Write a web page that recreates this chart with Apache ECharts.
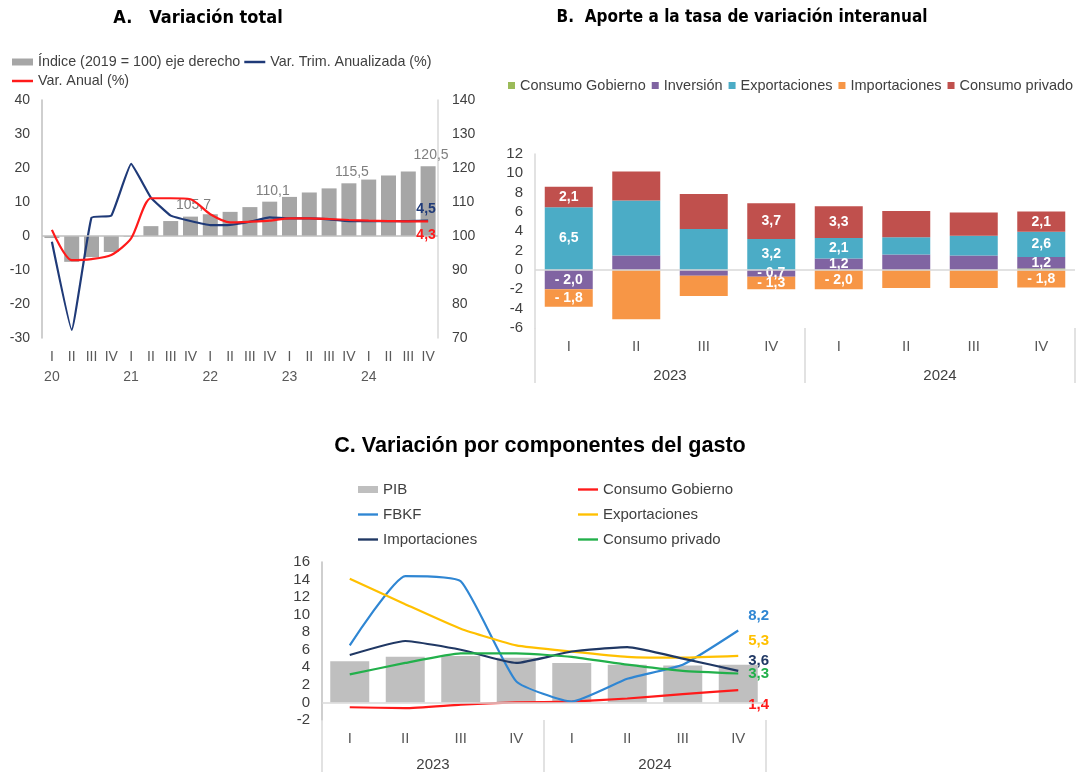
<!DOCTYPE html>
<html lang="es">
<head>
<meta charset="utf-8">
<title>PIB | Variación total, aportes y componentes del gasto</title>
<script src="https://cdn.jsdelivr.net/npm/echarts@6/dist/echarts.min.js"></script>
<style>
  html, body { margin: 0; padding: 0; background: #fff; }
  .panel { position: absolute; left: 0; top: 0; width: 1081px; height: 772px; }
</style>
</head>
<body>
<div id="chartA" class="panel"></div>
<div id="chartB" class="panel"></div>
<div id="chartC" class="panel"></div>

<script>
// ---- A. Variación total (2020 I - 2024 IV)
const quartersA = ['I','II','III','IV','I','II','III','IV','I','II','III','IV','I','II','III','IV','I','II','III','IV'];
const yearsA = ['20','21','22','23','24'];
const indiceA = [99.4, 92.4, 93.8, 95.3, 99.8, 102.9, 104.4, 105.7, 106.4, 107.1,
                 108.5, 110.1, 111.5, 112.8, 114.0, 115.5, 116.6, 117.8, 119.0, 120.5];
const trimA = [-1.7, -27.6, 5.4, 6.0, 21.2, 11.3, 6.0, 4.4, 3.2, 3.3,
               4.2, 5.5, 5.2, 5.2, 4.9, 4.4, 4.4, 4.4, 4.4, 4.5];
const anualA = [1.8, -7.1, -6.8, -5.6, -0.7, 11.1, 11.1, 10.8, 6.4, 4.0,
                4.2, 4.5, 5.2, 5.2, 5.0, 4.7, 4.5, 4.4, 4.3, 4.3];
const indiceLabelIdx = [7, 11, 15, 19];

// ---- B. Aporte a la tasa de variación interanual (2023-2024)
const quartersB = ['I','II','III','IV','I','II','III','IV'];
const yearsB = ['2023','2024'];
const gobiernoB = [0, 0, 0, 0, 0, 0, 0, 0.15];
const inversionB = [-2.0, 1.5, -0.6, -0.7, 1.2, 1.6, 1.5, 1.2];
const exportB = [6.5, 5.7, 4.25, 3.2, 2.1, 1.8, 2.05, 2.6];
const importB = [-1.8, -5.1, -2.1, -1.3, -2.0, -1.85, -1.85, -1.8];
const privadoB = [2.1, 3.0, 3.6, 3.7, 3.3, 2.7, 2.4, 2.1];
const labeledB = [0, 3, 4, 7];

// ---- C. Variación por componentes del gasto
const quartersC = ['I','II','III','IV','I','II','III','IV'];
const yearsC = ['2023','2024'];
const pibC = [4.7, 5.2, 5.3, 5.1, 4.5, 4.3, 4.2, 4.3];
const gobiernoC = [-0.55, -0.65, -0.25, 0.0, 0.1, 0.45, 0.95, 1.4];
const fbkfC = [6.5, 14.4, 13.8, 2.4, 0.1, 2.7, 4.3, 8.2];
const exportC = [14.1, 11.2, 8.4, 6.5, 5.8, 5.2, 5.1, 5.3];
const importC = [5.4, 7.0, 6.0, 4.5, 5.8, 6.3, 5.0, 3.6];
const privadoC = [3.2, 4.5, 5.6, 5.6, 5.2, 4.3, 3.6, 3.3];

const FONT = "'Liberation Sans', Arial, sans-serif";
const NARROW = "'Liberation Sans Narrow', 'Arial Narrow', 'DejaVu Sans Condensed', sans-serif";
const TXT = '#404040';
const LINE_ICON = 'path://M0,0L22,0L22,2.6L0,2.6Z';
const fmt = v => v.toFixed(1).replace('.', ',');
const fmtSigned = v => (v < 0 ? '- ' + fmt(-v) : fmt(v));

function title(text, x, y, size, family) {
  return {
    type: 'text', x: x, y: y, silent: true,
    style: { text: text, fontSize: size, fontWeight: 'bold', fontFamily: family,
             fill: '#000', align: 'center', verticalAlign: 'middle' }
  };
}

// move an end label up (d<0) or down (d>0) from its point by d px
function shiftLabel(d) {
  if (Math.abs(d) < 3) return { verticalAlign: 'middle' };
  return { verticalAlign: d < 0 ? 'bottom' : 'top', lineHeight: 2 * Math.abs(d) };
}

// ================= Chart A =================
const chartA = echarts.init(document.getElementById('chartA'));
chartA.setOption({
  animation: false,
  textStyle: { fontFamily: FONT },
  graphic: [title('A.   Variación total', 198, 18, 18, NARROW)],
  legend: [
    { left: 12, top: 55, padding: 0, itemWidth: 21, itemHeight: 7, itemGap: 4,
      textStyle: { fontSize: 14.3, color: TXT },
      data: [{ name: 'Índice (2019 = 100) eje derecho', icon: 'rect' },
             { name: 'Var. Trim. Anualizada (%)', icon: LINE_ICON }] },
    { left: 12, top: 74, padding: 0, itemWidth: 21, itemHeight: 7,
      textStyle: { fontSize: 14.3, color: TXT },
      data: [{ name: 'Var. Anual (%)', icon: LINE_ICON }] }
  ],
  grid: { left: 42, top: 100, width: 396, height: 238 },
  xAxis: {
    type: 'category', data: quartersA,
    axisLine: { show: false }, axisTick: { show: false },
    axisLabel: {
      interval: 0, margin: 9, fontSize: 14, color: '#595959', lineHeight: 20,
      formatter: (v, i) => (i % 4 === 0 ? v + '\n' + yearsA[i / 4] : v)
    }
  },
  yAxis: [
    { type: 'value', min: -30, max: 40, interval: 10,
      axisLine: { show: true, lineStyle: { color: '#BFBFBF', width: 1.5 } },
      splitLine: { show: false },
      axisLabel: { fontSize: 14, color: TXT, margin: 12 } },
    { type: 'value', min: 70, max: 140, interval: 10, position: 'right',
      axisLine: { show: true, lineStyle: { color: '#D9D9D9', width: 1.5 } },
      splitLine: { show: false },
      axisLabel: { fontSize: 14, color: TXT, margin: 14 } }
  ],
  series: [
    {
      // index drawn as distance from 100 on the left scale (0 <-> 100, same 10-unit steps as the right axis)
      name: 'Índice (2019 = 100) eje derecho', type: 'bar', yAxisIndex: 0,
      barWidth: 15, itemStyle: { color: '#A6A6A6' },
      data: indiceA.map((v, i) => ({ value: +(v - 100).toFixed(2),
                                     label: { show: indiceLabelIdx.includes(i) } })),
      label: { position: 'top', distance: 4, offset: [3, 0], color: '#7F7F7F', fontSize: 14,
               formatter: p => fmt(indiceA[p.dataIndex]) },
      markLine: { silent: true, symbol: 'none', label: { show: false },
                  lineStyle: { color: '#BFBFBF', width: 1.5, type: 'solid' },
                  data: [{ yAxis: 0 }] }
    },
    {
      name: 'Var. Trim. Anualizada (%)', type: 'line', data: trimA,
      symbol: 'none', smooth: 0.1, z: 4,
      lineStyle: { color: '#1F3A78', width: 2.2 }, itemStyle: { color: '#1F3A78' },
      endLabel: Object.assign({ show: true, formatter: p => fmt(p.value), color: '#1F3A78',
                  fontWeight: 'bold', fontSize: 14, align: 'center', distance: -2 }, shiftLabel(-12))
    },
    {
      name: 'Var. Anual (%)', type: 'line', data: anualA,
      symbol: 'none', smooth: 0.25, z: 5,
      lineStyle: { color: '#FF1A1A', width: 2.2 }, itemStyle: { color: '#FF1A1A' },
      endLabel: Object.assign({ show: true, formatter: p => fmt(p.value), color: '#FF1A1A',
                  fontWeight: 'bold', fontSize: 14, align: 'center', distance: -2 }, shiftLabel(14))
    }
  ]
});

// ================= Chart B =================
const chartB = echarts.init(document.getElementById('chartB'));
const stackLabel = {
  position: 'inside', color: '#fff', fontWeight: 'bold', fontSize: 14,
  formatter: p => fmtSigned(p.value)
};
function stackData(arr, labelled) {
  return arr.map((v, i) => ({ value: v, label: { show: labelled && labeledB.includes(i) } }));
}
chartB.setOption({
  animation: false,
  textStyle: { fontFamily: FONT },
  graphic: [title('B.  Aporte a la tasa de variación interanual', 742, 18, 17, NARROW)],
  legend: { left: 508, top: 78, padding: 0, icon: 'rect', itemWidth: 7, itemHeight: 7, itemGap: 6,
            textStyle: { fontSize: 14.5, color: TXT } },
  grid: { left: 535, top: 154, width: 540, height: 174 },
  xAxis: [
    { type: 'category', data: quartersB, position: 'bottom',
      axisLine: { show: false }, axisTick: { show: false },
      axisLabel: { interval: 0, margin: 11, fontSize: 15, color: '#595959' } },
    { type: 'category', data: yearsB, position: 'bottom',
      axisLine: { show: false },
      axisTick: { show: true, length: 55, lineStyle: { color: '#D9D9D9', width: 1.5 } },
      axisLabel: { margin: 40, fontSize: 15, color: TXT } }
  ],
  yAxis: { type: 'value', min: -6, max: 12, interval: 2,
           axisLine: { show: true, lineStyle: { color: '#D9D9D9', width: 1.5 } },
           splitLine: { show: false },
           axisLabel: { fontSize: 15, color: TXT, margin: 12 } },
  series: [
    { name: 'Consumo Gobierno', type: 'bar', stack: 'b', barWidth: 48,
      itemStyle: { color: '#9BBB59' }, data: stackData(gobiernoB, false),
      markLine: { silent: true, symbol: 'none', label: { show: false },
                  lineStyle: { color: '#D9D9D9', width: 1.5, type: 'solid' },
                  data: [{ yAxis: 0 }] } },
    { name: 'Inversión', type: 'bar', stack: 'b', itemStyle: { color: '#8064A2' },
      label: stackLabel, data: stackData(inversionB, true) },
    { name: 'Exportaciones', type: 'bar', stack: 'b', itemStyle: { color: '#4BACC6' },
      label: stackLabel, data: stackData(exportB, true) },
    { name: 'Importaciones', type: 'bar', stack: 'b', itemStyle: { color: '#F79646' },
      label: stackLabel, data: stackData(importB, true) },
    { name: 'Consumo privado', type: 'bar', stack: 'b', itemStyle: { color: '#C0504D' },
      label: stackLabel, data: stackData(privadoB, true) }
  ]
});

// ================= Chart C =================
const chartC = echarts.init(document.getElementById('chartC'));
function lineC(name, data, color, shift) {
  return {
    name: name, type: 'line', data: data, symbol: 'none', smooth: 0.15, z: 4,
    lineStyle: { color: color, width: 2.2 }, itemStyle: { color: color },
    endLabel: Object.assign({ show: true, formatter: p => fmt(p.value), color: color,
                fontWeight: 'bold', fontSize: 15, align: 'left', distance: 10 }, shiftLabel(shift))
  };
}
const legendC = { top: 482, padding: 0, orient: 'vertical', itemWidth: 20, itemHeight: 7, itemGap: 10,
                  textStyle: { fontSize: 15, color: TXT } };
chartC.setOption({
  animation: false,
  textStyle: { fontFamily: FONT },
  graphic: [title('C. Variación por componentes del gasto', 540, 446, 21.6, FONT)],
  legend: [
    Object.assign({ left: 358, data: [{ name: 'PIB', icon: 'rect' },
                                      { name: 'FBKF', icon: LINE_ICON },
                                      { name: 'Importaciones', icon: LINE_ICON }] }, legendC),
    Object.assign({ left: 578, data: [{ name: 'Consumo Gobierno', icon: LINE_ICON },
                                      { name: 'Exportaciones', icon: LINE_ICON },
                                      { name: 'Consumo privado', icon: LINE_ICON }] }, legendC)
  ],
  grid: { left: 322, top: 562, width: 444, height: 159 },
  xAxis: [
    { type: 'category', data: quartersC, position: 'bottom',
      axisLine: { show: false }, axisTick: { show: false },
      axisLabel: { interval: 0, margin: 11, fontSize: 15, color: '#595959' } },
    { type: 'category', data: yearsC, position: 'bottom',
      axisLine: { show: false },
      axisTick: { show: true, length: 52, lineStyle: { color: '#D9D9D9', width: 1.5 } },
      axisLabel: { margin: 37, fontSize: 15, color: TXT } }
  ],
  yAxis: { type: 'value', min: -2, max: 16, interval: 2,
           axisLine: { show: true, lineStyle: { color: '#BFBFBF', width: 1.5 } },
           splitLine: { show: false },
           axisLabel: { fontSize: 15, color: TXT, margin: 12 } },
  series: [
    { name: 'PIB', type: 'bar', barWidth: 39, itemStyle: { color: '#BFBFBF' }, data: pibC,
      markLine: { silent: true, symbol: 'none', label: { show: false },
                  lineStyle: { color: '#D9D9D9', width: 1.5, type: 'solid' },
                  data: [{ yAxis: 0 }] } },
    lineC('Consumo Gobierno', gobiernoC, '#FF1A1A', 15),
    lineC('FBKF', fbkfC, '#2F86D3', -15),
    lineC('Exportaciones', exportC, '#FFC000', -15),
    lineC('Importaciones', importC, '#203864', -10),
    lineC('Consumo privado', privadoC, '#22B04B', -1)
  ]
});
</script>
</body>
</html>
